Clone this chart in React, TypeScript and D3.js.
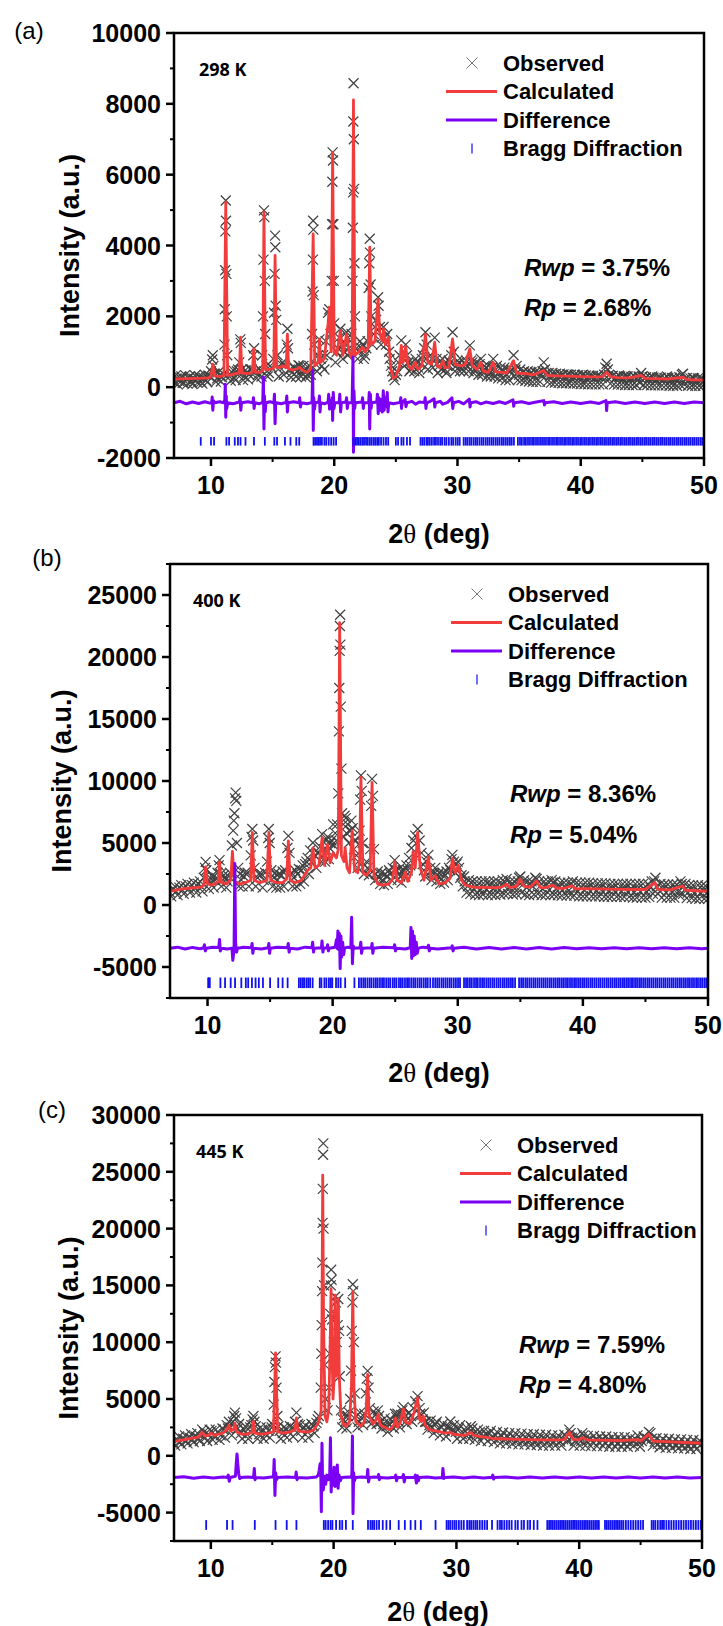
import React from "react";
import * as d3 from "d3";

type Pt = [number, number];

// ---------- panel (a) 298 K ----------
const calcA: Pt[] = [[7,230],[8,240],[9,250],[9.8,260],[10.0,300],[10.15,650],[10.3,320],[10.7,300],[11.05,330],[11.2,5220],[11.35,330],[11.6,350],[12.0,380],[12.3,400],[12.4,1410],[12.5,400],[13.0,380],[13.35,420],[13.47,1080],[13.6,420],[14.0,420],[14.2,480],[14.3,4940],[14.42,500],[14.9,500],[15.1,560],[15.2,3720],[15.32,560],[15.6,560],[15.8,600],[16.1,560],[16.2,1500],[16.3,520],[16.6,480],[17.0,520],[17.2,560],[17.5,460],[17.8,420],[18.1,520],[18.29,4330],[18.42,600],[18.7,700],[18.8,1360],[18.9,700],[19.2,800],[19.5,1800],[19.6,2260],[19.75,1000],[19.87,6630],[20.0,1000],[20.2,900],[20.5,1600],[20.7,900],[21.0,1500],[21.2,1000],[21.45,800],[21.56,8110],[21.68,900],[22.0,1000],[22.3,1130],[22.5,1000],[22.75,1100],[22.88,3950],[23.0,1200],[23.3,1300],[23.56,2490],[23.7,1500],[23.9,1300],[24.0,1650],[24.15,1200],[24.4,1410],[24.6,500],[24.8,250],[25.0,300],[25.3,600],[25.44,1180],[25.6,700],[25.8,1150],[26.0,600],[26.3,500],[26.57,700],[26.8,500],[27.1,600],[27.4,1500],[27.6,700],[27.9,650],[28.15,1270],[28.35,600],[28.6,550],[28.8,750],[29.0,550],[29.3,560],[29.6,1360],[29.8,650],[30.2,600],[30.6,620],[31.0,1080],[31.2,600],[31.6,500],[31.9,700],[32.1,450],[32.5,420],[32.9,700],[33.1,430],[33.6,420],[34.0,400],[34.55,750],[34.8,400],[35.5,380],[36.2,350],[37.0,470],[37.3,330],[38.0,320],[39.0,310],[40.0,300],[41.0,290],[41.8,300],[42.1,420],[42.4,300],[43.0,270],[44.0,260],[44.9,330],[45.2,250],[46.0,240],[47.0,230],[48.3,280],[48.6,220],[49.0,210],[50,200]];

const obsA: Pt[] = [[7.0,150],[7.2,250],[7.4,180],[7.6,300],[7.8,120],[8.0,220],[8.2,280],[8.4,160],[8.6,240],[8.8,190],[9.0,300],[9.2,150],[9.4,260],[9.6,200],[9.8,330],[10.0,450],[10.1,780],[10.15,900],[10.2,600],[10.3,380],[10.5,250],[10.7,330],[10.9,280],[11.1,1200],[11.12,2200],[11.15,3300],[11.17,4400],[11.2,5270],[11.22,4700],[11.25,3200],[11.28,2000],[11.32,900],[11.5,300],[11.7,420],[11.9,260],[12.1,450],[12.3,700],[12.38,1350],[12.42,1250],[12.5,500],[12.7,300],[12.9,420],[13.1,350],[13.3,500],[13.43,900],[13.5,1100],[13.6,450],[13.8,350],[14.0,480],[14.15,900],[14.22,2000],[14.26,3600],[14.3,4990],[14.33,4800],[14.36,3000],[14.4,1500],[14.5,600],[14.7,400],[14.9,550],[15.05,800],[15.12,2100],[15.16,3200],[15.2,4280],[15.22,3950],[15.25,2300],[15.3,1900],[15.4,900],[15.6,550],[15.8,700],[16.0,600],[16.15,1200],[16.2,1650],[16.25,1100],[16.4,500],[16.6,420],[16.8,550],[17.0,450],[17.2,600],[17.4,400],[17.6,500],[17.8,350],[18.0,600],[18.2,1500],[18.24,2700],[18.27,3600],[18.29,4700],[18.31,4450],[18.34,2600],[18.38,1200],[18.5,650],[18.7,900],[18.8,1350],[18.9,800],[19.1,900],[19.3,1300],[19.5,2100],[19.6,2200],[19.7,1500],[19.8,3000],[19.83,4600],[19.85,5800],[19.87,6630],[19.9,6400],[19.93,4600],[19.96,3000],[20.0,1800],[20.2,1000],[20.4,1400],[20.5,1650],[20.6,1200],[20.8,1000],[21.0,1550],[21.2,1100],[21.4,1500],[21.48,3000],[21.51,4500],[21.53,5500],[21.55,7500],[21.57,8580],[21.59,7000],[21.61,5600],[21.64,3500],[21.68,2000],[21.8,1100],[22.0,1000],[22.2,1100],[22.3,1200],[22.5,900],[22.7,1300],[22.8,2800],[22.84,3500],[22.88,4190],[22.9,3800],[22.95,2900],[23.0,2000],[23.2,1500],[23.4,1900],[23.56,2540],[23.6,2300],[23.7,1700],[23.85,1400],[24.0,1700],[24.1,1400],[24.3,1500],[24.45,1000],[24.6,600],[24.8,300],[25.0,350],[25.2,700],[25.44,1320],[25.6,800],[25.8,1200],[26.0,700],[26.2,500],[26.4,600],[26.6,800],[26.8,550],[27.0,650],[27.2,900],[27.4,1550],[27.5,1200],[27.7,700],[27.9,800],[28.15,1400],[28.3,800],[28.5,600],[28.8,800],[29.0,500],[29.2,600],[29.4,700],[29.6,1550],[29.7,1000],[29.9,600],[30.1,700],[30.3,550],[30.6,650],[30.8,600],[31.0,1180],[31.2,700],[31.4,500],[31.6,600],[31.9,800],[32.1,450],[32.3,550],[32.6,400],[32.9,800],[33.1,500],[33.4,400],[33.7,450],[34.0,350],[34.3,450],[34.55,900],[34.7,500],[35.0,350],[35.3,420],[35.6,300],[35.9,380],[36.2,300],[36.5,400],[36.8,350],[37.0,700],[37.2,400],[37.5,300],[37.8,360],[38.1,250],[38.4,330],[38.7,280],[39.0,350],[39.3,220],[39.6,300],[39.9,260],[40.2,350],[40.5,220],[40.8,300],[41.1,250],[41.4,320],[41.7,260],[42.0,550],[42.1,660],[42.2,500],[42.5,300],[42.8,250],[43.1,330],[43.4,200],[43.7,300],[44.0,240],[44.3,320],[44.6,200],[44.9,400],[45.2,250],[45.5,200],[45.8,300],[46.1,180],[46.4,260],[46.7,200],[47.0,300],[47.3,170],[47.6,260],[47.9,200],[48.2,350],[48.5,220],[48.8,180],[49.1,260],[49.4,150],[49.7,240],[50.0,200]];

// extra observed points along the background (the dense grey band)
const obsBaseA: Pt[] = [[7.1,320],[7.3,80],[7.5,260],[7.7,120],[7.9,340],[8.1,100],[8.3,300],[8.5,90],[8.7,330],[8.9,120],[9.1,280],[9.3,100],[9.5,350],[9.7,140],[9.9,300],[10.4,150],[10.6,420],[10.8,160],[11.0,380],[11.6,180],[11.8,480],[12.0,200],[12.2,500],[12.6,200],[12.8,480],[13.0,220],[13.2,500],[13.7,250],[13.9,520],[14.1,300],[14.6,300],[14.8,600],[15.5,300],[15.7,650],[15.9,350],[16.5,280],[16.7,550],[16.9,300],[17.1,620],[17.3,300],[17.5,600],[17.7,280],[17.9,550],[18.1,350],[18.6,450],[19.0,600],[19.2,500],[19.4,900],[20.1,700],[20.3,1100],[20.7,800],[20.9,1250],[21.1,900],[21.3,1300],[21.9,800],[22.1,1300],[22.4,800],[22.6,1100],[23.1,1200],[23.3,1700],[23.8,1200],[24.2,1200],[24.5,800],[24.7,450],[24.9,200],[25.1,450],[25.3,900],[25.7,600],[25.9,900],[26.1,450],[26.3,700],[26.5,450],[26.7,700],[26.9,400],[27.1,800],[27.3,1100],[27.6,500],[27.8,900],[28.0,550],[28.4,400],[28.6,750],[28.7,500],[28.9,650],[29.1,400],[29.3,750],[29.5,900],[29.8,450],[30.0,750],[30.2,450],[30.4,750],[30.5,450],[30.7,750],[30.9,450],[31.1,750],[31.3,400],[31.5,700],[31.7,350],[31.8,650],[32.0,350],[32.2,600],[32.4,300],[32.5,600],[32.7,300],[32.8,550],[33.0,300],[33.2,600],[33.3,250],[33.5,550],[33.6,250],[33.8,550],[33.9,200],[34.1,500],[34.2,200],[34.4,500],[34.6,300],[34.8,600],[34.9,200],[35.1,500],[35.2,200],[35.4,450],[35.5,180],[35.7,450],[35.8,160],[36.0,420],[36.1,150],[36.3,420],[36.4,150],[36.6,430],[36.7,150],[36.9,450],[37.1,500],[37.3,150],[37.4,400],[37.6,130],[37.7,400],[37.9,130],[38.0,380],[38.2,120],[38.3,380],[38.5,110],[38.6,360],[38.8,110],[38.9,360],[39.1,110],[39.2,350],[39.4,100],[39.5,350],[39.7,100],[39.8,340],[40.0,90],[40.1,340],[40.3,90],[40.4,330],[40.6,80],[40.7,330],[40.9,80],[41.0,320],[41.2,80],[41.3,320],[41.5,80],[41.6,320],[41.8,80],[41.9,350],[42.3,350],[42.4,100],[42.6,320],[42.7,80],[42.9,300],[43.0,70],[43.2,300],[43.3,70],[43.5,300],[43.6,60],[43.8,300],[43.9,60],[44.1,290],[44.2,60],[44.4,290],[44.5,60],[44.7,300],[44.8,120],[45.0,300],[45.1,60],[45.3,280],[45.4,60],[45.6,280],[45.7,50],[45.9,270],[46.0,50],[46.2,270],[46.3,50],[46.5,270],[46.6,50],[46.8,260],[46.9,50],[47.1,260],[47.2,40],[47.4,260],[47.5,40],[47.7,260],[47.8,40],[48.0,280],[48.1,60],[48.3,380],[48.4,80],[48.6,260],[48.7,40],[48.9,250],[49.0,40],[49.2,250],[49.3,40],[49.5,250],[49.6,40],[49.8,240],[49.9,40]];

const diffA: Pt[] = [[7,-440],[7.5,-400],[8,-470],[8.5,-420],[9,-460],[9.5,-410],[9.9,-450],[10.05,-440],[10.1,-280],[10.15,-650],[10.2,-380],[10.3,-440],[10.7,-410],[11.05,-440],[11.12,-350],[11.16,80],[11.2,-850],[11.24,-250],[11.28,-600],[11.35,-440],[11.8,-470],[12.3,-420],[12.36,-300],[12.42,-650],[12.48,-440],[13.0,-410],[13.4,-440],[13.45,-300],[13.5,-600],[13.56,-440],[13.9,-470],[14.2,-430],[14.25,280],[14.3,-1180],[14.34,-250],[14.4,-700],[14.46,-440],[14.8,-410],[15.1,-450],[15.15,-200],[15.2,-1030],[15.25,-500],[15.3,-440],[15.7,-470],[16.1,-430],[16.15,-250],[16.2,-700],[16.26,-440],[16.7,-410],[17.15,-440],[17.2,-300],[17.26,-560],[17.32,-440],[17.8,-470],[18.2,-430],[18.25,470],[18.3,-1220],[18.34,-300],[18.4,-620],[18.46,-440],[18.75,-420],[18.8,-250],[18.85,-700],[18.9,-440],[19.2,-470],[19.5,-420],[19.55,-200],[19.62,-620],[19.7,-380],[19.8,-480],[19.84,-300],[19.87,-940],[19.92,-150],[19.98,-600],[20.05,-440],[20.4,-430],[20.45,-200],[20.52,-700],[20.58,-440],[20.95,-420],[21.0,-300],[21.06,-600],[21.12,-440],[21.45,-430],[21.52,850],[21.56,-1840],[21.6,-100],[21.66,-600],[21.72,-440],[22.25,-420],[22.3,-300],[22.36,-600],[22.42,-440],[22.8,-430],[22.84,-150],[22.88,-1180],[22.93,-200],[22.99,-600],[23.05,-440],[23.45,-420],[23.5,-200],[23.57,-750],[23.63,-300],[23.7,-650],[23.78,-350],[23.9,-700],[23.98,-100],[24.05,-650],[24.12,-300],[24.2,-550],[24.3,-150],[24.36,-700],[24.42,-440],[24.8,-470],[25.35,-430],[25.4,-300],[25.46,-600],[25.52,-440],[25.75,-350],[25.82,-550],[25.9,-440],[26.3,-400],[26.6,-480],[26.9,-420],[27.33,-430],[27.38,-300],[27.44,-600],[27.5,-440],[27.8,-400],[28.1,-330],[28.16,-560],[28.22,-440],[28.6,-400],[28.8,-480],[29.2,-430],[29.55,-300],[29.62,-600],[29.68,-440],[30.1,-400],[30.5,-470],[30.96,-340],[31.02,-560],[31.08,-440],[31.5,-410],[31.9,-470],[32.3,-420],[32.9,-460],[33.4,-410],[33.9,-460],[34.5,-360],[34.56,-540],[34.62,-440],[35.2,-410],[35.8,-460],[36.4,-420],[37.0,-380],[37.06,-500],[37.12,-440],[37.8,-410],[38.5,-460],[39.2,-420],[40.0,-460],[40.8,-420],[41.5,-460],[42.05,-380],[42.1,-660],[42.15,-440],[42.8,-410],[43.6,-460],[44.4,-420],[45.2,-460],[46.0,-420],[46.8,-460],[47.6,-420],[48.4,-460],[49.2,-420],[50,-440]];

const braggA: number[] = [9.17,10.0,10.25,11.25,11.47,11.93,12.19,12.4,12.8,13.49,14.37,15.14,15.36,16.0,16.45,16.92,17.16,18.32,18.45,18.6,18.72,18.85,19.0,19.2,19.35,19.55,19.75,19.95,20.15,21.56,21.72,21.85,22.0,22.15,22.3,22.42,22.58,22.72,22.88,23.02,23.18,23.32,23.48,23.62,23.8,24.0,24.2,24.38,25.0,25.18,25.45,25.62,25.9,26.15,27.0,27.15,27.3,27.48,27.6,27.75,27.92,28.1,28.25,28.42,28.6,28.75,28.95,29.1,29.3,29.5,29.65,29.85,30.02];

// high-angle reflections, nearly continuous in (a) and (b)
const braggHigh: number[] = [30.18,30.5,30.66,30.8,30.97,31.12,31.3,31.46,31.6,31.78,31.95,32.1,32.28,32.44,32.6,32.77,32.92,33.1,33.26,33.42,33.6,33.75,33.92,34.08,34.25,34.4,34.58,34.9,35.07,35.22,35.4,35.55,35.72,35.88,36.05,36.2,36.37,36.53,36.7,36.86,37.02,37.18,37.35,37.5,37.67,37.83,38.0,38.15,38.32,38.48,38.65,38.8,38.97,39.13,39.3,39.45,39.62,39.78,39.95,40.1,40.27,40.43,40.6,40.75,40.92,41.08,41.25,41.4,41.57,41.73,41.9,42.05,42.22,42.38,42.55,42.7,42.87,43.03,43.2,43.35,43.52,43.68,43.85,44.0,44.17,44.33,44.5,44.65,44.82,44.98,45.15,45.3,45.47,45.63,45.8,45.95,46.12,46.28,46.45,46.6,46.77,46.93,47.1,47.25,47.42,47.58,47.75,47.9,48.07,48.23,48.4,48.55,48.72,48.88,49.05,49.2,49.37,49.53,49.7,49.85];

// ---------- panel (b) 400 K ----------
const calcB: Pt[] = [[7,1100],[7.5,1200],[8,1300],[8.5,1350],[9,1400],[9.5,1450],[9.7,1600],[9.85,3070],[10.0,1700],[10.3,1600],[10.6,1700],[10.85,1900],[10.96,3480],[11.1,1800],[11.5,1700],[11.85,2000],[11.99,4320],[12.15,1900],[12.6,1700],[13.0,1800],[13.45,2000],[13.58,5850],[13.72,2000],[14.2,1800],[14.75,2000],[14.9,5850],[15.05,2000],[15.5,1800],[16.0,1800],[16.32,2100],[16.46,5160],[16.6,2000],[17.0,1800],[17.5,2000],[18.0,2800],[18.25,3000],[18.42,4600],[18.6,3000],[18.9,3200],[19.16,5430],[19.35,3200],[19.6,4880],[19.8,3400],[20.04,4200],[20.3,3800],[20.45,4500],[20.56,22770],[20.7,4000],[20.9,3500],[21.0,4600],[21.15,3000],[21.35,2600],[21.56,5990],[21.75,2800],[22.0,2600],[22.15,3500],[22.26,10310],[22.42,2600],[22.7,2400],[23.0,2800],[23.15,9890],[23.3,2400],[23.6,1700],[24.0,1600],[24.5,1700],[24.8,2100],[24.96,3480],[25.15,2000],[25.5,1800],[25.8,2650],[26.0,1900],[26.3,2600],[26.43,4320],[26.6,3000],[26.8,5850],[27.0,3000],[27.3,2000],[27.65,3900],[27.85,2000],[28.2,2370],[28.5,1700],[29.0,1800],[29.4,2200],[29.57,3760],[29.8,2600],[30.05,3200],[30.3,2000],[30.6,1600],[31.0,1500],[31.5,1400],[32.0,1450],[32.5,1400],[33.0,1400],[33.5,1450],[33.9,1670],[34.2,1400],[34.7,1500],[34.97,2090],[35.3,1500],[35.8,1450],[36.3,1950],[36.6,1400],[37.0,1400],[37.6,1600],[37.9,1350],[38.5,1350],[39.1,1550],[39.4,1300],[40.0,1320],[41.0,1300],[42.0,1280],[43.0,1260],[44.0,1250],[45.0,1250],[45.75,1810],[46.0,1250],[47.0,1220],[47.96,1530],[48.2,1200],[49.0,1150],[50,1100]];

const obsB: Pt[] = [[7.0,1000],[7.25,1250],[7.5,1100],[7.75,1400],[8.0,1200],[8.25,1500],[8.5,1300],[8.75,1600],[9.0,1350],[9.25,1700],[9.5,1500],[9.7,2200],[9.8,3000],[9.85,3480],[9.9,2800],[10.05,2000],[10.2,1800],[10.4,2400],[10.6,2000],[10.8,2600],[10.9,3200],[10.96,3620],[11.05,2500],[11.2,2000],[11.4,2200],[11.6,1900],[11.8,2600],[11.95,4800],[12.05,6000],[12.1,6800],[12.15,7400],[12.2,8600],[12.25,9060],[12.3,8400],[12.35,5000],[12.45,3000],[12.7,2000],[12.9,2300],[13.2,2600],[13.45,4000],[13.52,5500],[13.58,6130],[13.65,5200],[13.75,3000],[14.0,2200],[14.3,2500],[14.5,2000],[14.75,3500],[14.85,5400],[14.9,6130],[14.97,5000],[15.1,2800],[15.3,2200],[15.6,2000],[15.9,2400],[16.2,2800],[16.38,4600],[16.46,5570],[16.55,4200],[16.7,2600],[16.9,2200],[17.2,2500],[17.5,2800],[17.8,3300],[18.0,3800],[18.2,4400],[18.42,5020],[18.55,4000],[18.8,4200],[19.0,4700],[19.16,5710],[19.3,4500],[19.45,5200],[19.6,5500],[19.75,4600],[19.9,5200],[20.04,6500],[20.2,5800],[20.35,6500],[20.45,9000],[20.5,14000],[20.53,17500],[20.56,20500],[20.58,22500],[20.6,23410],[20.62,21000],[20.65,16000],[20.7,11000],[20.75,7400],[20.85,6500],[20.95,7200],[21.05,7000],[21.2,6500],[21.35,6000],[21.5,6800],[21.6,6200],[21.75,5200],[21.9,4000],[22.05,3500],[22.15,6000],[22.2,8500],[22.26,10450],[22.32,9200],[22.4,5000],[22.55,3200],[22.8,3000],[23.0,4500],[23.08,8000],[23.15,10170],[23.22,8800],[23.3,4500],[23.45,2500],[23.7,2200],[24.0,2000],[24.3,2300],[24.6,2500],[24.8,3000],[24.96,3620],[25.1,2800],[25.4,2300],[25.7,2800],[25.9,3200],[26.1,3800],[26.3,4600],[26.45,5200],[26.6,5600],[26.8,6130],[26.95,5200],[27.1,4200],[27.3,2800],[27.5,3500],[27.65,4040],[27.8,3000],[28.0,2600],[28.2,3000],[28.4,2400],[28.7,2100],[29.0,2400],[29.3,3000],[29.5,3700],[29.57,4040],[29.7,3500],[29.9,3300],[30.1,3000],[30.3,2400],[30.55,1900],[30.8,1500],[31.05,1800],[31.3,1300],[31.55,1600],[31.8,1200],[32.05,1500],[32.3,1250],[32.55,1650],[32.8,1300],[33.05,1500],[33.3,1200],[33.55,1700],[33.8,1800],[34.05,1400],[34.3,1600],[34.55,1300],[34.8,1900],[35.0,2300],[35.25,1700],[35.5,1400],[35.75,1700],[36.0,1500],[36.3,2100],[36.55,1500],[36.8,1300],[37.05,1600],[37.3,1200],[37.6,1800],[37.85,1300],[38.1,1500],[38.35,1200],[38.6,1450],[38.85,1150],[39.1,1700],[39.35,1300],[39.6,1100],[39.85,1450],[40.1,1200],[40.35,1400],[40.6,1100],[40.85,1350],[41.1,1150],[41.35,1400],[41.6,1050],[41.85,1300],[42.1,1150],[42.35,1350],[42.6,1000],[42.85,1300],[43.1,1100],[43.35,1350],[43.6,1050],[43.85,1250],[44.1,1000],[44.35,1300],[44.6,1100],[44.85,1300],[45.1,1050],[45.4,1400],[45.7,1900],[45.9,1500],[46.15,1100],[46.4,1300],[46.65,1000],[46.9,1250],[47.15,1050],[47.4,1300],[47.65,1100],[47.9,1700],[48.15,1200],[48.4,1000],[48.65,1250],[48.9,950],[49.15,1200],[49.4,1000],[49.65,1150],[49.9,950]];

const obsBaseB: Pt[] = [[7.1,700],[7.4,1500],[7.6,800],[7.9,1600],[8.1,900],[8.4,1700],[8.6,1000],[8.9,1800],[9.1,1000],[9.4,1900],[9.6,1100],[10.1,1300],[10.3,2100],[10.5,1400],[10.7,2200],[11.1,1500],[11.3,2400],[11.5,1400],[11.7,2300],[12.5,1500],[12.6,2500],[12.8,1500],[13.0,2600],[13.3,1500],[13.85,1500],[14.1,2500],[14.4,1400],[14.6,2600],[15.2,1500],[15.4,2600],[15.5,1400],[15.7,2500],[15.8,1400],[16.0,2700],[16.1,1500],[16.8,1500],[17.0,2800],[17.1,1500],[17.3,2900],[17.4,1700],[17.6,3200],[17.7,1900],[17.9,3500],[18.1,2500],[18.3,3500],[18.7,3000],[18.9,4200],[19.1,3500],[19.4,3500],[19.55,4400],[19.7,3700],[19.8,5000],[20.1,4800],[20.3,5200],[20.9,5500],[21.1,5800],[21.3,5000],[21.45,6000],[21.7,4500],[21.85,5200],[22.0,3000],[22.5,2500],[22.7,3500],[22.9,2400],[23.4,2000],[23.6,2700],[23.8,1700],[23.9,2600],[24.1,1600],[24.2,2500],[24.4,1700],[24.5,2800],[24.7,2000],[25.0,2800],[25.2,2000],[25.3,2900],[25.5,1800],[25.6,2800],[25.8,2300],[26.0,2800],[26.2,3200],[27.2,3300],[27.4,2300],[27.9,2000],[28.1,2500],[28.3,1900],[28.5,2600],[28.6,1700],[28.8,2600],[28.9,1800],[29.1,2700],[29.2,2000],[29.4,2800],[29.8,2600],[30.0,3500],[30.2,2200],[30.4,1500],[30.5,2300],[30.7,1000],[30.9,2000],[31.0,900],[31.2,1900],[31.4,850],[31.5,1900],[31.7,800],[31.9,1900],[32.0,850],[32.2,1900],[32.4,800],[32.5,1900],[32.7,850],[32.9,1900],[33.0,800],[33.2,1900],[33.4,850],[33.6,2000],[33.7,900],[33.9,2100],[34.0,900],[34.2,1900],[34.4,850],[34.5,1900],[34.7,900],[34.9,2200],[35.1,1000],[35.3,2000],[35.4,850],[35.6,1900],[35.7,800],[35.9,1900],[36.1,850],[36.2,2200],[36.4,900],[36.5,1900],[36.7,800],[36.9,1900],[37.0,800],[37.2,1900],[37.4,800],[37.5,2000],[37.7,850],[37.8,1900],[38.0,800],[38.2,1800],[38.3,750],[38.5,1800],[38.7,750],[38.8,1800],[39.0,800],[39.2,1900],[39.3,750],[39.5,1800],[39.7,700],[39.8,1800],[40.0,700],[40.2,1800],[40.3,700],[40.5,1800],[40.7,700],[40.8,1750],[41.0,700],[41.2,1750],[41.3,700],[41.5,1750],[41.7,650],[41.8,1750],[42.0,650],[42.2,1700],[42.3,650],[42.5,1700],[42.7,650],[42.8,1700],[43.0,650],[43.2,1700],[43.3,650],[43.5,1700],[43.7,650],[43.8,1700],[44.0,600],[44.2,1700],[44.3,600],[44.5,1700],[44.7,600],[44.8,1700],[45.0,600],[45.2,1700],[45.3,650],[45.5,1900],[45.6,900],[45.8,2200],[46.0,900],[46.2,1700],[46.3,600],[46.5,1650],[46.7,600],[46.8,1650],[47.0,600],[47.2,1650],[47.3,600],[47.5,1650],[47.7,800],[47.8,1900],[48.0,900],[48.2,1700],[48.3,550],[48.5,1600],[48.7,550],[48.8,1600],[49.0,500],[49.2,1600],[49.3,500],[49.5,1550],[49.7,500],[49.8,1550],[50.0,500]];

const diffB: Pt[] = [[7,-3480],[7.6,-3400],[8.2,-3550],[8.8,-3420],[9.4,-3530],[9.7,-3450],[9.75,-3200],[9.82,-3700],[9.9,-3480],[10.4,-3400],[10.9,-3420],[10.96,-2790],[11.02,-3700],[11.1,-3480],[11.6,-3550],[11.95,-3480],[12.02,-4460],[12.12,-3600],[12.18,3340],[12.24,-3000],[12.32,-3800],[12.4,-3480],[12.9,-3400],[13.5,-3450],[13.56,-3100],[13.62,-3900],[13.68,-3480],[14.3,-3550],[14.85,-3450],[14.9,-3100],[14.96,-3900],[15.02,-3480],[15.6,-3400],[16.4,-3450],[16.45,-3100],[16.52,-3800],[16.58,-3480],[17.2,-3550],[17.8,-3400],[18.35,-3450],[18.4,-3000],[18.47,-3800],[18.53,-3480],[19.1,-3450],[19.15,-2900],[19.22,-3800],[19.28,-3480],[19.55,-3450],[19.6,-3200],[19.66,-3700],[19.72,-3480],[20.2,-3400],[20.3,-2800],[20.36,-3500],[20.42,-2090],[20.48,-3600],[20.54,-2300],[20.6,-5130],[20.66,-2500],[20.72,-4200],[20.8,-3000],[20.88,-4000],[20.95,-3480],[21.2,-3400],[21.45,-3450],[21.52,-980],[21.58,-4740],[21.64,-3300],[21.72,-3480],[22.2,-3450],[22.25,-3000],[22.31,-3900],[22.38,-3480],[23.1,-3450],[23.15,-3100],[23.21,-3900],[23.28,-3480],[24.0,-3400],[24.9,-3450],[24.95,-3200],[25.02,-3700],[25.1,-3480],[25.8,-3550],[26.2,-3450],[26.26,-1820],[26.32,-4320],[26.38,-2100],[26.45,-4100],[26.52,-2500],[26.6,-4000],[26.68,-3000],[26.76,-3900],[26.85,-3480],[27.2,-3400],[27.6,-3450],[27.66,-3250],[27.72,-3700],[27.8,-3480],[28.4,-3550],[29.5,-3450],[29.56,-3300],[29.62,-3700],[29.7,-3480],[30.5,-3400],[31.5,-3550],[32.5,-3420],[33.5,-3540],[34.5,-3430],[35.5,-3540],[36.5,-3420],[37.5,-3540],[38.5,-3430],[39.5,-3530],[40.5,-3440],[41.5,-3530],[42.5,-3440],[43.5,-3530],[44.5,-3440],[45.5,-3530],[46.5,-3440],[47.5,-3530],[48.5,-3440],[49.5,-3520],[50,-3480]];

const braggB: number[] = [10.05,10.11,10.18,11.03,11.4,11.85,12.2,12.7,13.06,13.25,13.55,13.84,14.1,14.43,15.0,15.65,16.0,16.4,17.3,17.45,17.6,17.72,17.9,18.05,18.2,18.4,18.97,19.1,19.34,19.5,19.7,19.85,19.97,20.27,20.45,20.64,21.0,21.74,22.1,22.28,22.45,22.6,22.78,22.95,23.1,23.28,23.45,23.6,23.78,23.95,24.1,24.28,24.45,24.6,24.8,24.95,25.1,25.3,25.45,25.6,25.78,25.95,26.1,26.28,26.45,26.6,26.78,26.95,27.1,27.28,27.45,27.6,27.8,28.02,28.2,28.36,28.52,28.7,28.85,29.02,29.18,29.35,29.5,29.68,29.85,30.02];

// ---------- panel (c) 445 K ----------
const calcC: Pt[] = [[7,1270],[7.5,1350],[8,1450],[8.5,1550],[9.0,1650],[9.3,2070],[9.5,1750],[9.8,1800],[10.0,2000],[10.3,1800],[10.6,1900],[11.0,2000],[11.3,2300],[11.47,2700],[11.6,2200],[11.85,2300],[11.96,2860],[12.1,2100],[12.5,1900],[13.0,1900],[13.35,2100],[13.47,3020],[13.6,2000],[14.0,1900],[14.5,1950],[15.1,2100],[15.2,6000],[15.27,9060],[15.35,6000],[15.45,2100],[16.0,2000],[16.5,2100],[16.85,2300],[16.97,3340],[17.1,2200],[17.6,2100],[18.0,2100],[18.4,2300],[18.8,3000],[18.98,4000],[19.05,12000],[19.11,24710],[19.18,12000],[19.3,3500],[19.45,3000],[19.6,4000],[19.72,10000],[19.79,14720],[19.87,9000],[19.95,5000],[20.05,7000],[20.12,14150],[20.22,7000],[20.3,8000],[20.38,13830],[20.46,7000],[20.6,3500],[20.8,2800],[21.0,2600],[21.3,3000],[21.45,6000],[21.56,14470],[21.66,6000],[21.8,3000],[22.2,2600],[22.5,3000],[22.65,4000],[22.77,7160],[22.9,3500],[23.2,2800],[23.5,3200],[23.63,3660],[23.8,2700],[24.2,2500],[24.6,2300],[24.9,2700],[25.05,3340],[25.2,2500],[25.45,3000],[25.6,3800],[25.7,4130],[25.85,3000],[26.2,2800],[26.55,3800],[26.7,4500],[26.84,5090],[27.0,3200],[27.15,3000],[27.3,3500],[27.45,2700],[27.8,2300],[28.3,2200],[28.7,2100],[29.0,2000],[29.5,2070],[29.7,1900],[30.2,1850],[30.7,1800],[31.17,2070],[31.4,1800],[31.9,1700],[32.3,1650],[32.7,1590],[33.0,1500],[33.5,1500],[34.0,1480],[35.0,1450],[36.0,1420],[37.0,1400],[38.0,1400],[38.8,1420],[39.19,2070],[39.5,1450],[40.0,1420],[40.3,1600],[40.6,1400],[41.5,1380],[42.5,1350],[43.5,1330],[44.7,1420],[45.0,1300],[45.67,1910],[46.0,1300],[47.0,1250],[48.0,1200],[49.0,1150],[50,1110]];

const obsC: Pt[] = [[7.0,1100],[7.25,1350],[7.5,1200],[7.75,1500],[8.0,1300],[8.25,1600],[8.5,1400],[8.75,1700],[9.0,1500],[9.3,2300],[9.55,1600],[9.8,1900],[10.05,2200],[10.3,1700],[10.55,2100],[10.8,1800],[11.05,2300],[11.3,2700],[11.47,3000],[11.6,2500],[11.8,3000],[11.9,3500],[11.96,3800],[12.05,3300],[12.2,2400],[12.45,2000],[12.7,2300],[12.95,1900],[13.2,2500],[13.4,3200],[13.47,3500],[13.55,3000],[13.7,2200],[13.95,1900],[14.2,2300],[14.45,1900],[14.7,2200],[14.95,2500],[15.12,4500],[15.18,6500],[15.22,7800],[15.27,8750],[15.3,8200],[15.35,6000],[15.42,3500],[15.6,2200],[15.85,2000],[16.1,2400],[16.35,2100],[16.6,2500],[16.85,3000],[16.97,3800],[17.1,2800],[17.35,2200],[17.6,2500],[17.85,2100],[18.1,2400],[18.35,2600],[18.6,2900],[18.8,3500],[18.95,6000],[19.0,9000],[19.03,11500],[19.06,14500],[19.08,17000],[19.1,20500],[19.12,23500],[19.14,26500],[19.16,27500],[19.18,20000],[19.22,15000],[19.28,8000],[19.35,5000],[19.5,4000],[19.62,6000],[19.68,9000],[19.73,12500],[19.77,15000],[19.8,16380],[19.83,15500],[19.88,12000],[19.95,8000],[20.02,10000],[20.08,12500],[20.12,14000],[20.18,13500],[20.25,10000],[20.33,11500],[20.38,13800],[20.44,11000],[20.5,7000],[20.6,4000],[20.75,3200],[20.95,3000],[21.15,3500],[21.35,5000],[21.42,7500],[21.48,11000],[21.53,13500],[21.56,15100],[21.6,14500],[21.65,10000],[21.72,5500],[21.85,3500],[22.05,3000],[22.3,3300],[22.5,3700],[22.62,5500],[22.7,6800],[22.77,7470],[22.85,6000],[22.95,4200],[23.15,3300],[23.4,3600],[23.6,4000],[23.8,3000],[24.05,2800],[24.3,2600],[24.55,2700],[24.8,3000],[25.0,3700],[25.1,3400],[25.3,3000],[25.5,3600],[25.7,4290],[25.85,3500],[26.05,3300],[26.3,3500],[26.5,4200],[26.65,4800],[26.84,5250],[27.0,4200],[27.15,3600],[27.35,3800],[27.55,3000],[27.8,2700],[28.05,2500],[28.3,2800],[28.55,2300],[28.8,2500],[29.05,2200],[29.3,2600],[29.5,3020],[29.7,2300],[29.95,2100],[30.2,2400],[30.45,1900],[30.7,2200],[30.95,1900],[31.17,2600],[31.4,2000],[31.65,1800],[31.9,2100],[32.15,1700],[32.4,1900],[32.7,2000],[32.95,1600],[33.2,1800],[33.45,1500],[33.7,1750],[33.95,1450],[34.2,1700],[34.45,1400],[34.7,1650],[34.95,1350],[35.2,1600],[35.45,1300],[35.7,1550],[35.95,1300],[36.2,1550],[36.45,1250],[36.7,1500],[36.95,1250],[37.2,1500],[37.45,1250],[37.7,1450],[37.95,1200],[38.2,1500],[38.45,1250],[38.7,1450],[38.95,1700],[39.19,2300],[39.4,1600],[39.65,1300],[39.9,1500],[40.15,1300],[40.35,1800],[40.6,1300],[40.85,1450],[41.1,1200],[41.35,1450],[41.6,1200],[41.85,1400],[42.1,1150],[42.35,1400],[42.6,1150],[42.85,1350],[43.1,1100],[43.35,1350],[43.6,1100],[43.85,1300],[44.1,1100],[44.35,1300],[44.6,1450],[44.85,1200],[45.1,1300],[45.4,1500],[45.67,2100],[45.9,1500],[46.15,1250],[46.4,1050],[46.65,1250],[46.9,1000],[47.15,1200],[47.4,1000],[47.65,1200],[47.9,950],[48.15,1150],[48.4,950],[48.65,1150],[48.9,900],[49.15,1100],[49.4,900],[49.65,1100],[49.9,950]];

const obsBaseC: Pt[] = [[7.1,900],[7.4,1700],[7.6,1000],[7.9,1800],[8.1,1100],[8.4,1900],[8.6,1200],[8.9,2000],[9.1,1300],[9.45,2100],[9.7,1300],[9.9,2300],[10.15,1400],[10.4,2300],[10.7,1400],[10.95,2400],[11.15,1600],[11.4,2400],[11.7,1800],[12.3,2800],[12.55,1500],[12.8,2600],[13.05,1500],[13.3,2700],[13.65,2600],[13.8,1500],[14.05,2500],[14.3,1500],[14.55,2500],[14.8,1600],[15.0,2800],[15.5,2600],[15.7,1500],[15.95,2500],[16.2,1600],[16.45,2600],[16.7,1700],[17.25,2700],[17.45,1600],[17.7,2700],[17.95,1600],[18.2,2800],[18.45,2000],[18.7,3200],[20.7,2500],[20.85,3600],[21.05,2400],[21.25,3800],[21.95,2500],[22.15,3800],[22.4,2700],[23.05,2800],[23.25,3900],[23.5,2800],[23.7,3500],[23.9,2400],[24.15,3300],[24.4,2100],[24.65,3200],[24.9,2400],[25.2,3700],[25.4,2500],[25.6,4000],[25.95,2800],[26.15,3800],[26.4,3000],[27.05,3700],[27.25,3200],[27.45,3000],[27.65,2300],[27.9,3100],[28.15,2000],[28.4,3000],[28.65,1800],[28.9,2800],[29.15,1700],[29.4,2500],[29.6,2100],[29.8,2700],[30.05,1500],[30.3,2700],[30.55,1500],[30.8,2500],[31.05,1500],[31.3,2400],[31.5,1400],[31.75,2300],[32.0,1300],[32.25,2200],[32.55,1300],[32.8,2200],[33.05,1200],[33.3,2100],[33.55,1100],[33.8,2050],[34.05,1100],[34.3,2000],[34.55,1050],[34.8,2000],[35.05,1000],[35.3,1950],[35.55,1000],[35.8,1900],[36.05,950],[36.3,1900],[36.55,950],[36.8,1850],[37.05,900],[37.3,1850],[37.55,900],[37.8,1800],[38.05,900],[38.3,1800],[38.55,900],[38.8,1850],[39.05,1300],[39.3,2000],[39.55,900],[39.8,1800],[40.05,900],[40.25,2000],[40.5,900],[40.7,1750],[40.95,850],[41.2,1750],[41.45,850],[41.7,1700],[41.95,850],[42.2,1700],[42.45,800],[42.7,1650],[42.95,800],[43.2,1650],[43.45,800],[43.7,1650],[43.95,800],[44.2,1600],[44.45,900],[44.75,1800],[44.95,800],[45.25,1700],[45.55,1500],[45.8,2000],[46.0,900],[46.3,1550],[46.55,750],[46.8,1500],[47.05,700],[47.3,1500],[47.55,700],[47.8,1450],[48.05,650],[48.3,1450],[48.55,650],[48.8,1400],[49.05,600],[49.3,1400],[49.55,600],[49.8,1350]];

const diffC: Pt[] = [[7,-1910],[7.8,-1850],[8.6,-1970],[9.4,-1860],[10.2,-1960],[11.0,-1870],[11.35,-1900],[11.42,-1700],[11.5,-2250],[11.58,-1910],[12.0,-1800],[12.07,-700],[12.13,160],[12.2,-800],[12.27,-1600],[12.35,-2000],[12.45,-1910],[13.0,-1860],[13.48,-1900],[13.54,-1110],[13.6,-2100],[13.68,-1910],[14.3,-1960],[15.1,-1850],[15.16,-320],[15.22,-3500],[15.28,-1500],[15.36,-2100],[15.45,-1910],[16.2,-1860],[16.9,-1900],[16.95,-1430],[17.02,-2100],[17.1,-1910],[17.8,-1960],[18.6,-1860],[18.75,-1700],[18.82,-1300],[18.9,-700],[18.96,-2000],[19.0,-4930],[19.05,1110],[19.1,-2200],[19.16,-3000],[19.25,-1800],[19.35,-2500],[19.45,-1700],[19.58,-2100],[19.68,-1600],[19.74,1590],[19.8,-3180],[19.86,-1500],[19.94,-2600],[20.04,-1000],[20.12,-2700],[20.22,-1600],[20.3,-800],[20.36,-2860],[20.44,-1700],[20.55,-2200],[20.65,-1910],[21.2,-1860],[21.48,-1900],[21.53,1750],[21.58,-5090],[21.63,-1500],[21.7,-2200],[21.78,-1910],[22.3,-1860],[22.72,-1900],[22.78,-1200],[22.84,-2300],[22.92,-1910],[23.3,-1860],[23.6,-1900],[23.66,-1650],[23.72,-2100],[23.8,-1910],[24.4,-1960],[25.0,-1880],[25.06,-1700],[25.12,-2200],[25.2,-1910],[25.62,-1900],[25.68,-1650],[25.75,-2300],[25.82,-1910],[26.6,-1880],[26.66,-1700],[26.74,-2400],[26.82,-1750],[26.9,-2200],[26.98,-1910],[27.6,-1860],[28.3,-1960],[28.85,-1900],[28.9,-1110],[28.97,-2000],[29.05,-1910],[29.8,-1860],[30.6,-1960],[31.4,-1860],[32.2,-1960],[32.9,-1880],[32.96,-1700],[33.02,-2050],[33.1,-1910],[34.0,-1860],[35.0,-1960],[36.0,-1870],[37.0,-1950],[38.0,-1870],[39.0,-1950],[40.0,-1870],[41.0,-1950],[42.0,-1870],[43.0,-1950],[44.0,-1870],[45.0,-1950],[46.0,-1870],[47.0,-1950],[48.0,-1870],[49.0,-1950],[50,-1910]];

const braggC: number[] = [9.62,11.32,11.77,13.58,15.27,16.18,16.97,19.2,19.35,19.55,19.75,19.9,20.2,20.5,20.7,21.0,21.56,22.8,23.0,23.15,23.3,23.5,23.7,24.0,24.3,24.6,25.3,25.8,26.27,26.65,27.1,28.3,29.2,29.35,29.5,29.68,29.85,30.0,30.2,30.4,30.6,30.87,31.05,31.2,31.38,31.55,31.7,31.9,32.1,32.3,32.5,32.9,33.35,33.55,33.7,33.9,34.1,34.3,34.5,34.8,35.0,35.3,35.5,35.8,36.0,36.3,36.6,37.4,37.55,37.7,37.85,38.0,38.15,38.3,38.45,38.6,38.75,38.9,39.05,39.2,39.35,39.5,39.65,39.8,39.95,40.1,40.25,40.4,40.55,40.7,40.85,41.0,41.15,41.3,41.45,41.6,42.1,42.25,42.4,42.55,42.7,42.85,43.0,43.15,43.3,43.45,43.6,43.8,44.0,44.2,44.4,44.6,44.8,45.0,45.2,45.9,46.05,46.2,46.4,46.6,46.75,46.9,47.1,47.3,47.5,47.7,47.9,48.1,48.3,48.5,48.7,48.9,49.1,49.3,49.5,49.7,49.9];

const xTicks = [10, 20, 30, 40, 50];
const xMinor = [15, 25, 35, 45];
const yTicksA = [-2000, 0, 2000, 4000, 6000, 8000, 10000];
const yTicksB = [-5000, 0, 5000, 10000, 15000, 20000, 25000];
const yTicksC = [-5000, 0, 5000, 10000, 15000, 20000, 25000, 30000];
const legendItems = ["Observed", "Calculated", "Difference", "Bragg Diffraction"];

const panels = [
  { tag: "(a)", temp: "298 K", rwp: "3.75%", rp: "2.68%", obs: [...obsBaseA, ...obsA], calc: calcA, diff: diffA, bragg: [...braggA, ...braggHigh], braggY: [-1650, -1410], yDomain: [-2000, 10000], yTicks: yTicksA, yMinorStep: 1000 },
  { tag: "(b)", temp: "400 K", rwp: "8.36%", rp: "5.04%", obs: [...obsBaseB, ...obsB], calc: calcB, diff: diffB, bragg: [...braggB, ...braggHigh], braggY: [-6700, -5850], yDomain: [-7500, 27500], yTicks: yTicksB, yMinorStep: 2500 },
  { tag: "(c)", temp: "445 K", rwp: "7.59%", rp: "4.80%", obs: [...obsBaseC, ...obsC], calc: calcC, diff: diffC, bragg: braggC, braggY: [-6520, -5660], yDomain: [-7500, 30000], yTicks: yTicksC, yMinorStep: 2500 },
];

const layouts = [
  { left: 174, right: 704, top: 33, bottom: 458, tagX: 29, tagY: 30, tempX: 199, legendX: 503, rX: 524, rY1: 267, rY2: 307, titleX: 70, xTitleY: 543 },
  { left: 170, right: 708, top: 564, bottom: 998, tagX: 47, tagY: 557, tempX: 193, legendX: 508, rX: 510, rY1: 793, rY2: 834, titleX: 62, xTitleY: 1082 },
  { left: 174, right: 702, top: 1115, bottom: 1541, tagX: 52, tagY: 1109, tempX: 196, legendX: 517, rX: 519, rY1: 1344, rY2: 1384, titleX: 69, xTitleY: 1621 },
];

const FONT = "'Liberation Sans', Arial, sans-serif";
const RED = "#f23c3c";
const PURPLE = "#7b00f5";
const BLUE = "#1010f0";
const GREY = "#404040";
const cross = "M-5,-5L5,5M-5,5L5,-5";

function Panel({ p, l, i }: { p: any; l: any; i: number }) {
  const x = d3.scaleLinear().domain([7, 50]).range([l.left, l.right]);
  const y = d3.scaleLinear().domain(p.yDomain).range([l.bottom, l.top]);
  const line = d3.line<Pt>().x(d => x(d[0])).y(d => y(d[1]));
  const yMinor = d3.range(p.yDomain[0], p.yDomain[1] + 1, p.yMinorStep).filter((v: number) => !p.yTicks.includes(v));
  const clipId = `clip-${i}`;
  const midY = (l.top + l.bottom) / 2;
  const midX = (l.left + l.right) / 2;
  return (
    <g>
      <defs>
        <clipPath id={clipId}>
          <rect x={l.left} y={l.top} width={l.right - l.left} height={l.bottom - l.top} />
        </clipPath>
      </defs>
      <g clipPath={`url(#${clipId})`}>
        {p.obs.map((d: Pt, k: number) => (
          <path key={k} d={cross} transform={`translate(${x(d[0])},${y(d[1])})`} stroke={GREY} strokeWidth={1.2} fill="none" />
        ))}
        <path d={line(p.calc) || ""} stroke={RED} strokeWidth={2.8} fill="none" strokeLinejoin="round" />
        <path d={line(p.diff) || ""} stroke={PURPLE} strokeWidth={3} fill="none" strokeLinejoin="round" />
        {p.bragg.map((v: number, k: number) => (
          <line key={k} x1={x(v)} x2={x(v)} y1={y(p.braggY[0])} y2={y(p.braggY[1])} stroke={BLUE} strokeWidth={1.8} />
        ))}
      </g>
      <rect x={l.left} y={l.top} width={l.right - l.left} height={l.bottom - l.top} fill="none" stroke="#000" strokeWidth={2.5} />
      {p.yTicks.map((v: number) => (
        <g key={v}>
          <line x1={l.left - 8} x2={l.left} y1={y(v)} y2={y(v)} stroke="#000" strokeWidth={2.5} />
          <text x={l.left - 13} y={y(v)} textAnchor="end" dominantBaseline="central" fontFamily={FONT} fontWeight="bold" fontSize={25}>{v}</text>
        </g>
      ))}
      {yMinor.map((v: number) => (
        <line key={v} x1={l.left - 4} x2={l.left} y1={y(v)} y2={y(v)} stroke="#000" strokeWidth={2} />
      ))}
      {xTicks.map(v => (
        <g key={v}>
          <line x1={x(v)} x2={x(v)} y1={l.bottom} y2={l.bottom + 8} stroke="#000" strokeWidth={2.5} />
          <text x={x(v)} y={l.bottom + 36} textAnchor="middle" fontFamily={FONT} fontWeight="bold" fontSize={25}>{v}</text>
        </g>
      ))}
      {xMinor.map(v => (
        <line key={v} x1={x(v)} x2={x(v)} y1={l.bottom} y2={l.bottom + 4} stroke="#000" strokeWidth={2} />
      ))}
      <text x={l.tagX} y={l.tagY} textAnchor="middle" dominantBaseline="central" fontFamily={FONT} fontSize={24}>{p.tag}</text>
      <text transform={`translate(${l.titleX},${midY}) rotate(-90)`} textAnchor="middle" dominantBaseline="central" fontFamily={FONT} fontWeight="bold" fontSize={27}>Intensity (a.u.)</text>
      <text x={midX} y={l.xTitleY} textAnchor="middle" fontFamily={FONT} fontWeight="bold" fontSize={27}>
        2<tspan fontFamily="'Liberation Serif', serif" fontWeight="normal">θ</tspan> (deg)
      </text>
      <text x={l.tempX} y={l.top + 36} dominantBaseline="central" fontFamily="'Open Sans', sans-serif" fontWeight="bold" fontSize={18}>{p.temp}</text>
      {legendItems.map((name, k) => {
        const ly = l.top + 30 + 28.5 * k;
        const sx = l.legendX - 31;
        return (
          <g key={name}>
            {k === 0 && <path d="M-5.5,-5.5L5.5,5.5M-5.5,5.5L5.5,-5.5" transform={`translate(${sx},${ly})`} stroke="#777" strokeWidth={1} fill="none" />}
            {k === 1 && <line x1={sx - 26} x2={sx + 25} y1={ly} y2={ly} stroke={RED} strokeWidth={3} />}
            {k === 2 && <line x1={sx - 26} x2={sx + 25} y1={ly} y2={ly} stroke={PURPLE} strokeWidth={3} />}
            {k === 3 && <line x1={sx} x2={sx} y1={ly - 5} y2={ly + 5} stroke={BLUE} strokeWidth={1.2} />}
            <text x={l.legendX} y={ly} dominantBaseline="central" fontFamily={FONT} fontWeight="bold" fontSize={22}>{name}</text>
          </g>
        );
      })}
      <text x={l.rX} y={l.rY1} dominantBaseline="central" fontFamily={FONT} fontWeight="bold" fontSize={24}>
        <tspan fontStyle="italic">Rwp</tspan> = {p.rwp}
      </text>
      <text x={l.rX} y={l.rY2} dominantBaseline="central" fontFamily={FONT} fontWeight="bold" fontSize={24}>
        <tspan fontStyle="italic">Rp</tspan> = {p.rp}
      </text>
    </g>
  );
}

export default function App() {
  return (
    <div style={{ position: "absolute", left: 0, top: 0, background: "#fff" }}>
      <svg width={723} height={1626} style={{ display: "block" }}>
        <rect width={723} height={1626} fill="#fff" />
        {panels.map((p, i) => (
          <Panel key={p.tag} p={p} l={layouts[i]} i={i} />
        ))}
      </svg>
    </div>
  );
}
